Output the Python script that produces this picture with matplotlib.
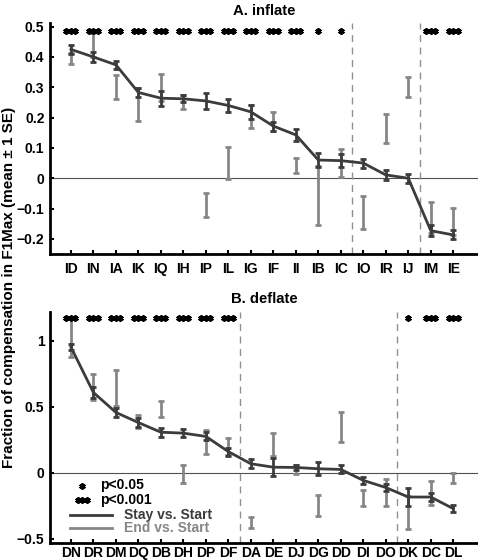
import numpy as np
import matplotlib
matplotlib.use('Agg')
import matplotlib.pyplot as plt

plt.rcParams['font.family'] = ['Liberation Sans', 'DejaVu Sans']
plt.rcParams['font.weight'] = 'bold'

# inflate condition
inf_names = ['ID', 'IN', 'IA', 'IK', 'IQ', 'IH', 'IP', 'IL', 'IG', 'IF',
             'II', 'IB', 'IC', 'IO', 'IR', 'IJ', 'IM', 'IE']
inf_stay = [0.425, 0.400, 0.374, 0.283, 0.264, 0.262, 0.255, 0.240, 0.219, 0.172,
            0.143, 0.060, 0.058, 0.050, 0.011, 0.000, -0.173, -0.187]
inf_stay_se = [0.016, 0.015, 0.014, 0.016, 0.025, 0.012, 0.025, 0.02, 0.022, 0.015,
               0.02, 0.023, 0.022, 0.015, 0.016, 0.015, 0.018, 0.015]
inf_end = [0.395, 0.440, 0.300, 0.243, 0.300, 0.252, -0.088, 0.050, 0.203, 0.187,
           0.043, -0.057, 0.050, -0.114, 0.163, 0.302, -0.130, -0.143]
inf_end_se = [0.018, 0.040, 0.040, 0.053, 0.045, 0.022, 0.040, 0.053, 0.038, 0.030,
              0.025, 0.097, 0.045, 0.054, 0.048, 0.033, 0.050, 0.044]
inf_sig = [3] * 11 + [1, 1, 0, 0, 0, 3, 3]   # number of stars
inf_groups = [13.5, 16.5]

# deflate condition
def_names = ['DN', 'DR', 'DM', 'DQ', 'DB', 'DH', 'DP', 'DF', 'DA', 'DE',
             'DJ', 'DG', 'DD', 'DI', 'DO', 'DK', 'DC', 'DL']
def_stay = [0.952, 0.608, 0.457, 0.380, 0.307, 0.300, 0.275, 0.160, 0.068, 0.042,
            0.040, 0.030, 0.025, -0.058, -0.112, -0.184, -0.184, -0.272]
def_stay_se = [0.025, 0.040, 0.035, 0.035, 0.035, 0.028, 0.030, 0.030, 0.033, 0.066,
               0.020, 0.050, 0.030, 0.025, 0.030, 0.065, 0.030, 0.028]
def_end = [1.03, 0.648, 0.640, 0.387, 0.480, -0.013, 0.230, 0.200, -0.378, 0.215,
           0.027, -0.250, 0.346, -0.190, -0.150, -0.300, -0.156, -0.040]
def_end_se = [0.15, 0.100, 0.135, 0.048, 0.060, 0.068, 0.090, 0.063, 0.044, 0.085,
              0.034, 0.078, 0.116, 0.060, 0.104, 0.125, 0.090, 0.038]
def_sig = [3] * 8 + [0] * 7 + [1, 3, 3]
def_groups = [8.5, 15.5]

dark = '#3c3c3c'
light = '#868686'
star = dict(marker=(6, 2, 0), markersize=4.6, mew=1.4, color='black',
            linestyle='none')

fig = plt.figure(figsize=(4.78, 5.6), dpi=100)
ax1 = fig.add_axes([0.1046, 0.5464, 0.8954, 0.4125])
ax2 = fig.add_axes([0.1046, 0.0309, 0.8954, 0.4125])


def stars(ax, xc, y, n, dx, **kw):
    offs = np.arange(n) - (n - 1) / 2
    ax.plot(xc + offs * dx, [y] * n, clip_on=False, **star, **kw)


def panel(ax, names, stay, stay_se, end, end_se, sig, groups, ylim, yticks,
          yticklabels, star_y, title, xpad):
    x = np.arange(1, len(names) + 1)
    ax.axhline(0, color='#505050', lw=0.8, zorder=1)
    for g in groups:
        ax.axvline(g, color='#909090', lw=1, ls=(0, (5, 4)), zorder=1)
    ax.errorbar(x, end, yerr=end_se, fmt='none', ecolor=light, elinewidth=2,
                capsize=2.5, capthick=2, zorder=2)
    ax.errorbar(x, stay, yerr=stay_se, fmt='-', color=dark, lw=2, elinewidth=2,
                capsize=2.5, capthick=2, zorder=3)
    for xi, n in zip(x, sig):
        if n:
            stars(ax, xi, star_y, n, 0.2)
    ax.set_xlim(0.07, 19.1)
    ax.set_ylim(*ylim)
    ax.set_xticks(x)
    ax.set_xticklabels(names, fontsize=10, fontweight='bold')
    ax.set_yticks(yticks)
    ax.set_yticklabels(yticklabels, fontsize=10, fontweight='bold')
    ax.tick_params(direction='in', length=3, width=1.5, pad=4)
    ax.tick_params(axis='x', pad=xpad)
    for side in ['top', 'right']:
        ax.spines[side].set_visible(False)
    for side in ['left', 'bottom']:
        ax.spines[side].set_linewidth(2)
    ax.set_title(title, fontsize=10.7, fontweight='bold', pad=6)


panel(ax1, inf_names, inf_stay, inf_stay_se, inf_end, inf_end_se, inf_sig,
      inf_groups, (-0.25, 0.512), [-0.2, -0.1, 0, 0.1, 0.2, 0.3, 0.4, 0.5],
      ['\u22120.2', '\u22120.1', '0', '0.1', '0.2', '0.3', '0.4', '0.5'],
      0.487, 'A. inflate', 5.5)
panel(ax2, def_names, def_stay, def_stay_se, def_end, def_end_se, def_sig,
      def_groups, (-0.53, 1.22), [-0.5, 0, 0.5, 1],
      ['\u22120.5', '0', '0.5', '1'], 1.175, 'B. deflate', 2.5)

# legend drawn by hand
tr = ax2.transAxes
stars(ax2, 0.075, 0.245, 1, 0.0105, transform=tr)
ax2.text(0.117, 0.248, 'p<0.05', transform=tr, ha='left', va='center', fontsize=10)
stars(ax2, 0.075, 0.185, 3, 0.0105, transform=tr)
ax2.text(0.117, 0.185, 'p<0.001', transform=tr, ha='left', va='center', fontsize=10)
ax2.plot([0.047, 0.145], [0.12, 0.12], color=dark, lw=2, transform=tr)
ax2.text(0.173, 0.12, 'Stay vs. Start', transform=tr, ha='left', va='center',
         fontsize=10, color=dark)
ax2.plot([0.047, 0.145], [0.063, 0.063], color=light, lw=2, transform=tr)
ax2.text(0.173, 0.063, 'End vs. Start', transform=tr, ha='left', va='center',
         fontsize=10, color=light)

fig.text(0.018, 0.4875, 'Fraction of compensation in F1Max (mean \u00b1 1 SE)',
         rotation=90, ha='center', va='center', fontsize=11, fontweight='bold')

fig.savefig('out.png', dpi=100)
